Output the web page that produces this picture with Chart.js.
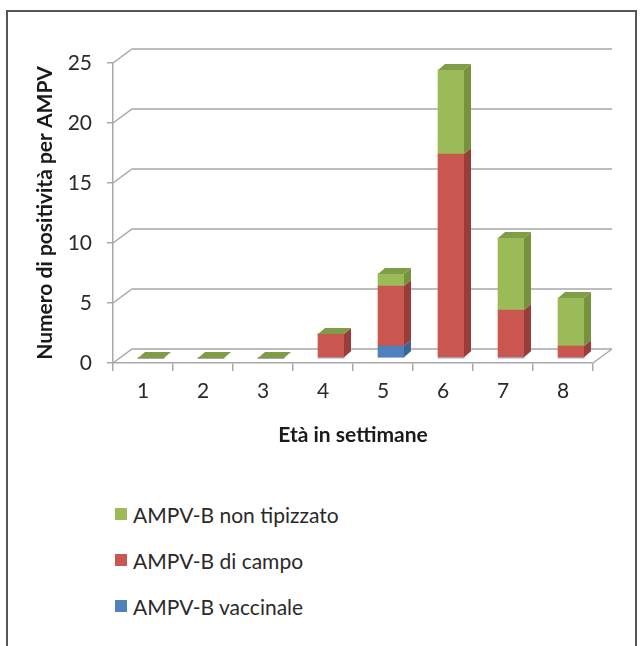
<!DOCTYPE html>
<html>
<head>
<meta charset="utf-8">
<script src="https://cdn.jsdelivr.net/npm/chart.js@4.4.1/dist/chart.umd.min.js"></script>
<style>
  html, body { margin: 0; padding: 0; background: #fff; overflow: hidden; }
  body { width: 643px; height: 646px; position: relative; font-family: Lato, "Open Sans", sans-serif; }
  #frame {
    position: absolute; left: 6px; top: 10px; width: 631px; height: 700px;
    border: 2px solid #555; box-sizing: border-box;
  }
  #chart { position: absolute; left: 0; top: 0; }
  #legend { position: absolute; left: 115px; top: 502px; }
  .item { height: 46px; display: flex; align-items: flex-start; font-size: 21px; line-height: 26px; color: #2a2a2a; }
  .item .swatch { width: 12px; height: 12px; margin: 6px 6px 0 0; }
</style>
</head>
<body>
<div id="frame"></div>
<canvas id="chart" width="643" height="460"></canvas>
<div id="legend"></div>
<script>
// weeks of age and positive samples per AMPV type
const weeks = ['1', '2', '3', '4', '5', '6', '7', '8'];
const vaccinale = [0, 0, 0, 0, 1, 0, 0, 0];
const campo = [0, 0, 0, 2, 5, 17, 4, 1];
const nonTipizzato = [0, 0, 0, 0, 1, 7, 6, 4];
const yTicks = [0, 5, 10, 15, 20, 25];

const GRID = '#a8a8a8';
const WALL_DX = 19, WALL_DY = 14;      // back wall depth
const BAR_SHIFT_X = 8, BAR_SHIFT_Y = -5; // bars stand halfway into the floor
const BAR_DX = 7, BAR_DY = 6;          // bar depth

// fake 3D: back wall lines, then side/top faces on the bars
const box3d = {
    id: 'box3d',
    beforeDatasetsDraw(chart) {
        const { ctx, chartArea: a, scales: { y } } = chart;
        ctx.save();
        ctx.strokeStyle = GRID;
        ctx.lineWidth = 1.5;
        yTicks.forEach(v => {
            const py = y.getPixelForValue(v);
            ctx.beginPath();
            ctx.moveTo(a.left, py);
            ctx.lineTo(a.left + WALL_DX, py - WALL_DY);
            ctx.lineTo(a.right + WALL_DX, py - WALL_DY);
            ctx.stroke();
        });
        const py0 = y.getPixelForValue(0);
        ctx.beginPath();
        ctx.moveTo(a.right, py0);
        ctx.lineTo(a.right + WALL_DX, py0 - WALL_DY);
        ctx.stroke();
        ctx.restore();

        ctx.save();
        ctx.translate(BAR_SHIFT_X, BAR_SHIFT_Y);
    },
    afterDatasetsDraw(chart) {
        const ctx = chart.ctx;
        const sets = chart.data.datasets;
        sets.forEach((ds, di) => {
            chart.getDatasetMeta(di).data.forEach(bar => {
                const { x, y, base, width } = bar.getProps(['x', 'y', 'base', 'width']);
                if (base - y < 0.5) return;
                const r = x + width / 2;
                ctx.fillStyle = ds.sideColor;
                ctx.beginPath();
                ctx.moveTo(r, y);
                ctx.lineTo(r + BAR_DX, y - BAR_DY);
                ctx.lineTo(r + BAR_DX, base - BAR_DY);
                ctx.lineTo(r, base);
                ctx.closePath();
                ctx.fill();
            });
        });
        // top face sits on the uppermost series
        const last = sets.length - 1;
        chart.getDatasetMeta(last).data.forEach(bar => {
            const { x, y, width } = bar.getProps(['x', 'y', 'width']);
            const l = x - width / 2, r = x + width / 2;
            ctx.fillStyle = sets[last].topColor;
            ctx.beginPath();
            ctx.moveTo(l, y);
            ctx.lineTo(r, y);
            ctx.lineTo(r + BAR_DX, y - BAR_DY);
            ctx.lineTo(l + BAR_DX, y - BAR_DY);
            ctx.closePath();
            ctx.fill();
        });
        ctx.restore();
    }
};

const chart = new Chart(document.getElementById('chart'), {
    type: 'bar',
    data: {
        labels: weeks,
        datasets: [
            { label: 'AMPV-B vaccinale', data: vaccinale, backgroundColor: '#4f81bd', sideColor: '#3a6596', topColor: '#6a95c8' },
            { label: 'AMPV-B di campo', data: campo, backgroundColor: '#c9564f', sideColor: '#993d3a', topColor: '#d36f69' },
            { label: 'AMPV-B non tipizzato', data: nonTipizzato, backgroundColor: '#9bbb59', sideColor: '#76923c', topColor: '#7f9c46' }
        ]
    },
    options: {
        responsive: false,
        animation: false,
        devicePixelRatio: 1,
        clip: false,
        barThickness: 26,
        layout: { padding: { top: 63, right: 50, bottom: 0, left: 0 } },
        plugins: {
            legend: { display: false },
            tooltip: { enabled: false }
        },
        scales: {
            x: {
                stacked: true,
                ticks: { color: '#2a2a2a', font: { family: 'Lato', size: 21 }, padding: 8 },
                grid: { drawOnChartArea: false, tickLength: 8, color: GRID, lineWidth: 1.5 },
                border: { color: GRID, width: 1.5 },
                title: {
                    display: true, text: 'Età in settimane', color: '#1a1a1a',
                    font: { family: 'Lato', size: 21, weight: 'bold' }, padding: { bottom: 12 }
                },
                afterFit(s) { s.height = 97; }
            },
            y: {
                stacked: true,
                min: 0,
                max: 25,
                afterBuildTicks(s) { s.ticks = yTicks.map(v => ({ value: v })); },
                ticks: { color: '#2a2a2a', font: { family: 'Lato', size: 21 }, padding: 15 },
                grid: { drawOnChartArea: false, tickLength: 6, color: GRID, lineWidth: 1.5 },
                border: { color: GRID, width: 1.5 },
                title: {
                    display: true, text: 'Numero di positività per AMPV', color: '#1a1a1a',
                    font: { family: 'Lato', size: 21, weight: 'bold' }, padding: { top: 33 }
                },
                afterFit(s) { s.width = 113; }
            }
        }
    },
    plugins: [box3d]
});

// legend lists the series top of stack first
const legend = document.getElementById('legend');
[...chart.data.datasets].reverse().forEach(ds => {
    const item = document.createElement('div');
    item.className = 'item';
    const sw = document.createElement('span');
    sw.className = 'swatch';
    sw.style.background = ds.backgroundColor;
    item.appendChild(sw);
    item.appendChild(document.createTextNode(ds.label));
    legend.appendChild(item);
});
</script>
</body>
</html>
